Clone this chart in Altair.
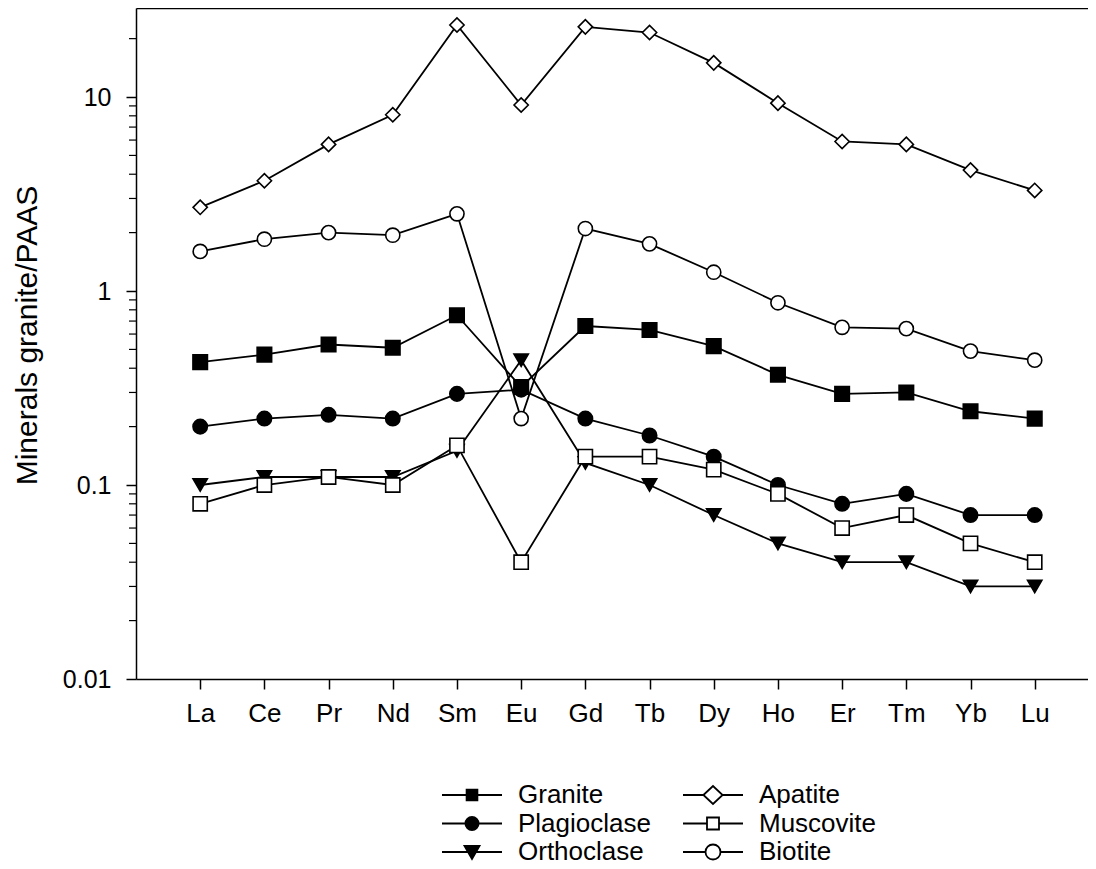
import json
import altair as alt
import pandas as pd

# ---- data ----
elements = ["La", "Ce", "Pr", "Nd", "Sm", "Eu", "Gd", "Tb", "Dy", "Ho", "Er", "Tm", "Yb", "Lu"]
series_names = ["Granite", "Plagioclase", "Orthoclase", "Apatite", "Muscovite", "Biotite"]

granite = [0.43, 0.47, 0.53, 0.51, 0.75, 0.32, 0.66, 0.63, 0.52, 0.37, 0.295, 0.30, 0.24, 0.22]
plagioclase = [0.20, 0.22, 0.23, 0.22, 0.295, 0.31, 0.22, 0.18, 0.14, 0.10, 0.08, 0.09, 0.07, 0.07]
orthoclase = [0.10, 0.11, 0.11, 0.11, 0.15, 0.44, 0.13, 0.10, 0.07, 0.05, 0.04, 0.04, 0.03, 0.03]
apatite = [2.7, 3.7, 5.7, 8.1, 23.5, 9.1, 23.0, 21.5, 15.0, 9.3, 5.9, 5.7, 4.2, 3.3]
muscovite = [0.08, 0.10, 0.11, 0.10, 0.16, 0.04, 0.14, 0.14, 0.12, 0.09, 0.06, 0.07, 0.05, 0.04]
biotite = [1.6, 1.85, 2.0, 1.94, 2.5, 0.22, 2.1, 1.75, 1.25, 0.87, 0.65, 0.64, 0.49, 0.44]

major_ticks = [0.01, 0.1, 1, 10]
minor_ticks = [0.02, 0.03, 0.04, 0.05, 0.06, 0.07, 0.08, 0.09,
               0.2, 0.3, 0.4, 0.5, 0.6, 0.7, 0.8, 0.9,
               2, 3, 4, 5, 6, 7, 8, 9, 20]

# ---- styles ----
plot_shapes = ["square", "circle", "triangle-down", "diamond", "square", "circle"]
plot_fills = ["black", "black", "black", "white", "white", "white"]
plot_sizes = [210, 200, 220, 420, 200, 210]

# legend symbols: a line through a marker (unit box scaled by sqrt(size)/2)
legend_paths = [
    "M-1,0H-0.18M0.18,0H1M-0.18,-0.18H0.18V0.18H-0.18Z",
    "M-1,0H-0.22M0.22,0H1M0.22,0A0.22,0.22,0,1,1,-0.22,0A0.22,0.22,0,1,1,0.22,0Z",
    "M-1,0H-0.13M0.13,0H1M-0.25,-0.2L0.25,-0.2L0,0.23Z",
    "M-1,0H-0.32M0.32,0H1M-0.32,0L0,-0.3L0.32,0L0,0.3Z",
    "M-1,0H-0.2M0.2,0H1M-0.2,-0.2H0.2V0.2H-0.2Z",
    "M-1,0H-0.25M0.25,0H1M0.25,0A0.25,0.25,0,1,1,-0.25,0A0.25,0.25,0,1,1,0.25,0Z",
]

FONT = "Liberation Sans"
PLOT_W = 962
PLOT_H = 671

rows = []
for name, vals in zip(series_names, [granite, plagioclase, orthoclase, apatite, muscovite, biotite]):
    for i, (el, v) in enumerate(zip(elements, vals)):
        rows.append({"series": name, "element": el, "idx": i, "value": v})
df = pd.DataFrame(rows)

leg_df = pd.DataFrame({
    "series": series_names,
    "col": [i // 3 for i in range(len(series_names))],
    "row": [i % 3 for i in range(len(series_names))],
})
minor_df = pd.DataFrame({"value": minor_ticks})

x_scale = alt.Scale(domain=[-1, 13.986], nice=False, zero=False)
y_scale = alt.Scale(type="log", domain=[0.01, 28.77], nice=False)

x_axis = alt.Axis(
    values=list(range(len(elements))),
    labelExpr=json.dumps(elements) + "[datum.value]",
    title=None, grid=False, tickSize=10, labelPadding=11,
    labelFontSize=26, labelFont=FONT, labelColor="black",
    domainColor="black", domainWidth=1.5, tickColor="black", tickWidth=1.5,
)
x_axis_top = alt.Axis(
    orient="top", labels=False, ticks=False, title=None, grid=False,
    domain=True, domainColor="black", domainWidth=1.5,
)
y_axis_major = alt.Axis(
    values=major_ticks, format="~g", orient="left",
    title="Minerals granite/PAAS", titleFontSize=30, titleFont=FONT,
    titleFontWeight="normal", titleColor="black",
    titleX=-100, titleY=327, titleAngle=270, titleAlign="center", titleBaseline="alphabetic",
    grid=False, tickSize=10, labelPadding=15,
    labelFontSize=25, labelFont=FONT, labelColor="black",
    domainColor="black", domainWidth=1.5, tickColor="black", tickWidth=1.5,
)

base = alt.Chart(df)

lines = base.mark_line(color="black", strokeWidth=1.8).encode(
    x=alt.X("idx:Q", scale=x_scale, axis=x_axis),
    y=alt.Y("value:Q", scale=y_scale, axis=y_axis_major),
    detail="series:N",
    order="idx:Q",
)

points = base.mark_point(filled=True, opacity=1, stroke="black", strokeWidth=1.6).encode(
    x=alt.X("idx:Q", scale=x_scale, axis=x_axis_top),
    y=alt.Y("value:Q", scale=y_scale, axis=None),
    shape=alt.Shape("series:N", scale=alt.Scale(domain=series_names, range=plot_shapes), legend=None),
    fill=alt.Fill("series:N", scale=alt.Scale(domain=series_names, range=plot_fills), legend=None),
    size=alt.Size("series:N", scale=alt.Scale(domain=series_names, range=plot_sizes), legend=None),
)

# minor ticks of the log axis, drawn through the same y scale
minor = alt.Chart(minor_df).mark_rule(color="black", strokeWidth=1.2).encode(
    x=alt.value(-7), x2=alt.value(0),
    y=alt.Y("value:Q", scale=y_scale, axis=None),
)

# legend, drawn below the plot area with its own scales
leg_x = alt.X("col:Q", scale=alt.Scale(domain=[0, 1], range=[336, 577]), axis=None)
leg_y = alt.Y("row:Q", scale=alt.Scale(domain=[0, 2], range=[787, 844]), axis=None)

legend_symbols = alt.Chart(leg_df).mark_point(
    filled=True, opacity=1, stroke="black", strokeWidth=1.8, size=3600
).encode(
    x=leg_x, y=leg_y,
    shape=alt.Shape("series:N", scale=alt.Scale(domain=series_names, range=legend_paths), legend=None),
    fill=alt.Fill("series:N", scale=alt.Scale(domain=series_names, range=plot_fills), legend=None),
)

legend_text = alt.Chart(leg_df).mark_text(
    align="left", baseline="middle", dx=46, fontSize=26, font=FONT, color="black"
).encode(x=leg_x, y=leg_y, text="series:N")

chart = alt.layer(lines, points, minor, legend_symbols, legend_text).resolve_scale(
    x="independent", y="independent",
    shape="independent", fill="independent", size="independent",
).resolve_axis(
    x="independent", y="independent"
).properties(
    width=PLOT_W, height=PLOT_H,
    autosize=alt.AutoSizeParams(type="none"),
    padding={"left": 128, "top": 0, "right": -10, "bottom": 186},
    view=alt.ViewBackground(stroke="white", strokeOpacity=0),
).configure_view(stroke="white", strokeOpacity=0)

chart.save("out.html", embed_options={"renderer": "svg", "actions": False})
